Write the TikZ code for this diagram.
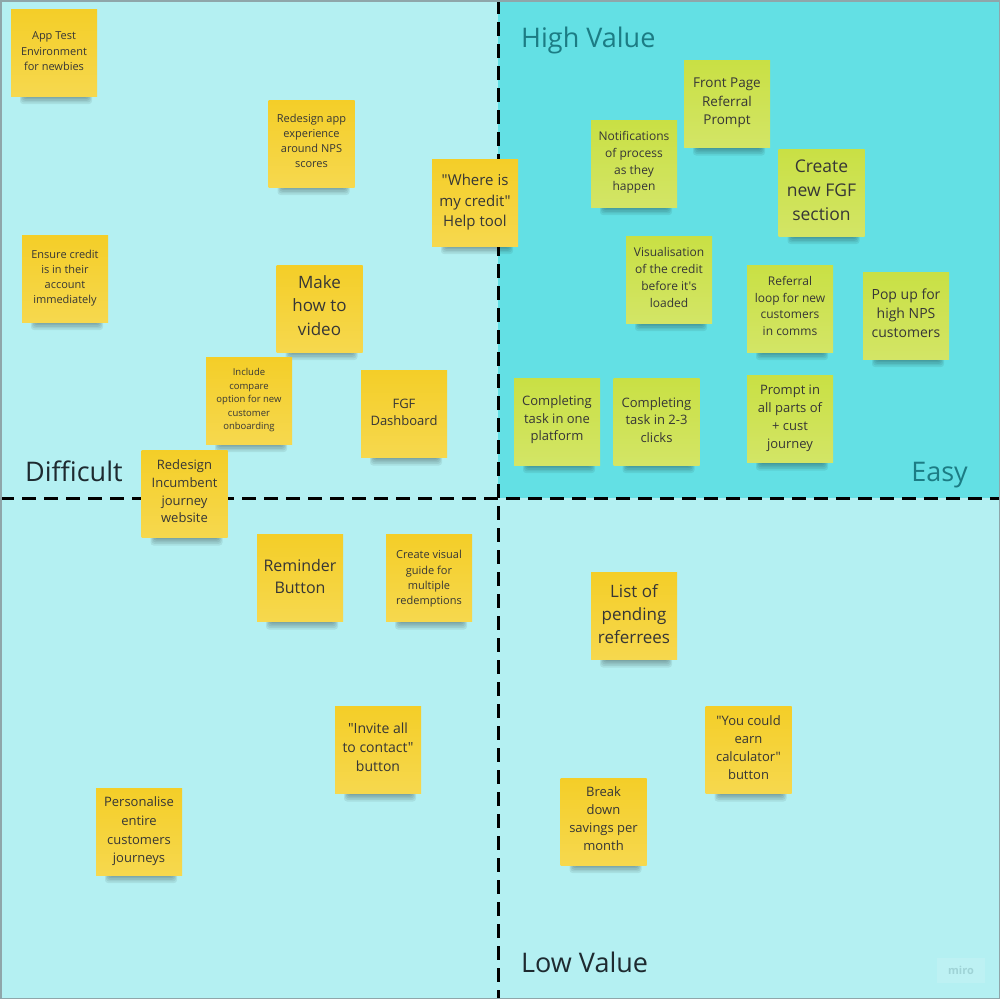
\documentclass[tikz,border=0pt]{standalone}
\usepackage{fontspec}
\setmainfont{Open Sans}[Ligatures=TeXOff]
\definecolor{bgc}{HTML}{B4F0F2}
\definecolor{hvc}{HTML}{63E0E4}
\definecolor{framec}{HTML}{8FA6AA}
\definecolor{tealc}{HTML}{1C7C84}
\definecolor{darkc}{HTML}{1E2A30}
\definecolor{notetext}{HTML}{363636}
\definecolor{ytop}{HTML}{F4CE28}
\definecolor{ybot}{HTML}{F6D84E}
\definecolor{gtop}{HTML}{C9E044}
\definecolor{gbot}{HTML}{D3E566}
\definecolor{miroc}{HTML}{9FD3D6}
\tikzset{
  notebox/.style={rectangle, minimum width=86pt, minimum height=87pt, inner sep=0pt},
  yellownote/.style={notebox, top color=ytop, bottom color=ybot},
  greennote/.style={notebox, top color=gtop, bottom color=gbot},
  notetextstyle/.style={inner sep=0pt, align=center, text=notetext},
  axisline/.style={black, line width=3pt, dash pattern=on 14pt off 8pt},
  biglabel/.style={inner sep=0pt, font=\fontsize{27}{32}\selectfont},
}
% #1 name, #2 cx, #3 cy, #4 style, #5 size, #6 skip, #7 text centre y, #8 text
\newcommand\sticky[8]{%
  \begin{scope}[shift={(#2,#3)}]
    \foreach \k in {0,1,2,3,4}{
      \fill[black, opacity=0.07, rounded corners=3pt]
        ({-34+\k},30) rectangle ({38-\k},{51.5-1.6*\k});
    }
  \end{scope}
  \node[#4] (#1) at (#2,#3) {};
  \node[notetextstyle, font=\fontsize{#5}{#6}\selectfont] (#1-text) at (#2,#7) {#8};
}
\begin{document}
\begin{tikzpicture}[x=1pt,y=-1pt]
\useasboundingbox (0,0) rectangle (1000,999);
\fill[bgc] (0,0) rectangle (1000,999);
\fill[hvc] (498,0) rectangle (1000,498);
\coordinate (vtop) at (498,0);
\coordinate (vbot) at (498,999);
\coordinate (hleft) at (0,498);
\coordinate (hright) at (1000,498);
\draw[axisline] (vtop) -- (vbot);
\draw[axisline] (hleft) -- (hright);
\draw[framec, line width=1.5pt] (0.75,0.75) rectangle (999.25,998.25);

\node[biglabel, anchor=base west, text=tealc] (hv) at (521,47) {High Value};
\node[biglabel, anchor=base west, text=darkc] (diff) at (25,481) {Difficult};
\node[biglabel, anchor=base east, text=tealc] (easy) at (968,481) {Easy};
\node[biglabel, anchor=base west, text=darkc] (lv) at (521,972) {Low Value};
\node[fill=white, fill opacity=0.13, text opacity=1, text=miroc, minimum width=48pt,
  minimum height=25pt, inner sep=0pt, font=\fontsize{11}{13}\selectfont\bfseries] (miro) at (961,970.5) {miro};

% yellow notes
\sticky{appt}{54}{52.5}{yellownote}{11}{15.5}{51.3}{App Test\\Environment\\for newbies}
\sticky{redes}{311.5}{143.5}{yellownote}{11}{15}{141}{Redesign app\\experience\\around NPS\\scores}
\sticky{where}{475}{202.5}{yellownote}{15}{20.5}{202.5}{"Where is\\my credit"\\Help tool}
\sticky{ensure}{65}{278.5}{yellownote}{11}{15}{278.5}{Ensure credit\\is in their\\account\\immediately}
\sticky{make}{319.5}{308.5}{yellownote}{17}{23.5}{305.5}{Make\\how to\\video}
\sticky{incl}{249}{400.5}{yellownote}{9.5}{13.5}{400.5}{Include\\compare\\option for new\\customer\\onboarding}
\sticky{fgfd}{404}{414}{yellownote}{13}{17.5}{412.5}{FGF\\Dashboard}
\sticky{incumb}{184.5}{494}{yellownote}{13}{17.7}{491.5}{Redesign\\Incumbent\\journey\\website}
\sticky{remind}{300}{578}{yellownote}{16}{22}{576}{Reminder\\Button}
\sticky{visguide}{429}{578}{yellownote}{11}{15.3}{579}{Create visual\\guide for\\multiple\\redemptions}
\sticky{invite}{378}{750}{yellownote}{14}{19}{747}{"Invite all\\to contact"\\button}
\sticky{person}{139}{831.5}{yellownote}{13}{18.7}{831.5}{Personalise\\entire\\customers\\journeys}
\sticky{pending}{634}{616}{yellownote}{17}{23}{614}{List of\\pending\\referrees}
\sticky{youcould}{748.5}{750}{yellownote}{13}{18}{748}{"You could\\earn\\calculator"\\button}
\sticky{breakdown}{603.5}{821.5}{yellownote}{13}{18}{818.5}{Break\\down\\savings per\\month}

% green notes
\sticky{front}{727}{104}{greennote}{13.5}{18.5}{103}{Front Page\\Referral\\Prompt}
\sticky{notif}{634}{163.5}{greennote}{12}{16.7}{162.5}{Notifications\\of process\\as they\\happen}
\sticky{createfgf}{821.5}{192.5}{greennote}{17.5}{24}{190}{Create\\new FGF\\section}
\sticky{visu}{669}{279.5}{greennote}{12}{16.7}{277.5}{Visualisation\\of the credit\\before it's\\loaded}
\sticky{refloop}{790}{308.5}{greennote}{12}{16.7}{306}{Referral\\loop for new\\customers\\in comms}
\sticky{popup}{906}{315.5}{greennote}{14}{19}{313.5}{Pop up for\\high NPS\\customers}
\sticky{compone}{557}{421.5}{greennote}{13}{17.5}{420}{Completing\\task in one\\platform}
\sticky{comptwo}{656.5}{421.5}{greennote}{13}{17.5}{420}{Completing\\task in 2-3\\clicks}
\sticky{prompt}{790}{419}{greennote}{13}{18}{418.5}{Prompt in\\all parts of\\+ cust\\journey}
\end{tikzpicture}
\end{document}
